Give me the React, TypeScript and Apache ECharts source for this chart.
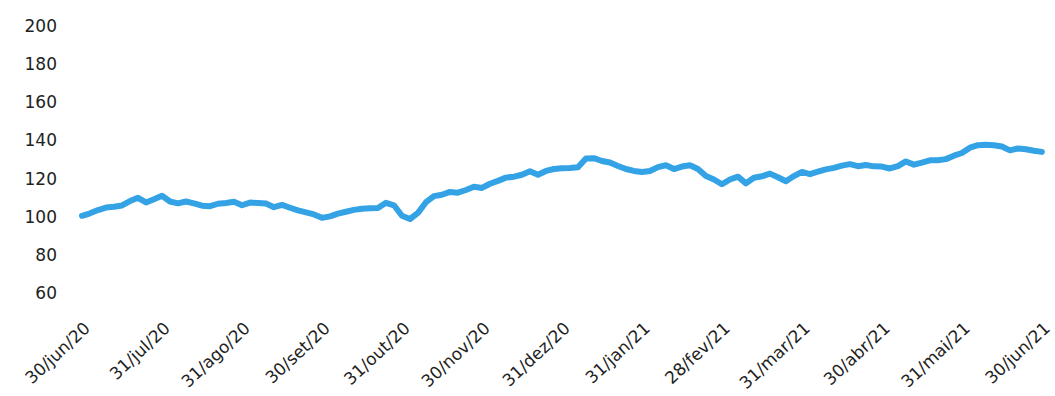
import { useEffect, useRef } from "react";
import * as echarts from "echarts";

const tickLabels = [
  "30/jun/20", "31/jul/20", "31/ago/20", "30/set/20", "31/out/20", "30/nov/20",
  "31/dez/20", "31/jan/21", "28/fev/21", "31/mar/21", "30/abr/21", "31/mai/21", "30/jun/21",
];

const pointsPerMonth = 10;

const values = [
  100.5, 101.8, 103.5, 104.8, 105.2, 105.9, 108.2, 109.9, 107.5, 109.2,
  111.0, 108.0, 107.0, 108.0, 107.0, 105.8, 105.5, 106.8, 107.2, 107.8,
  106.0, 107.4, 107.2, 106.9, 105.0, 106.2, 104.7, 103.3, 102.3, 101.2,
  99.4, 100.2, 101.6, 102.6, 103.6, 104.2, 104.4, 104.6, 107.3, 106.0,
  100.5, 98.8, 102.0, 107.6, 110.8, 111.5, 113.0, 112.6, 114.0, 115.7,
  115.1, 117.3, 118.8, 120.5, 121.0, 122.0, 123.8, 122.0, 124.0, 125.0,
  125.4, 125.5, 125.9, 130.5, 130.7, 129.2, 128.4, 126.6, 125.0, 124.0,
  123.5, 124.0, 126.0, 127.0, 125.0, 126.3, 127.0, 125.0, 121.3, 119.5,
  117.0, 119.5, 121.0, 117.5, 120.4, 121.2, 122.6, 120.7, 118.6, 121.3,
  123.5, 122.3, 123.6, 124.8, 125.6, 126.8, 127.6, 126.5, 127.1, 126.4,
  126.3, 125.3, 126.5, 129.0, 127.3, 128.4, 129.6, 129.6, 130.2, 132.0,
  133.4, 136.2, 137.5, 137.7, 137.5, 136.8, 134.8, 135.8, 135.4, 134.6,
  134.0,
];

const yMin = 60;
const yMax = 200;
const yStep = 20;

export default function App() {
  const ref = useRef<HTMLDivElement>(null);

  useEffect(() => {
    if (!ref.current) return;
    const chart = echarts.init(ref.current, null, { renderer: "svg" });
    const categories = values.map((_, i) => String(i));
    chart.setOption({
      animation: false,
      backgroundColor: "#ffffff",
      grid: { left: 82, right: 4, top: 26, bottom: 103, containLabel: false },
      xAxis: {
        type: "category",
        data: categories,
        boundaryGap: false,
        axisLine: { show: false },
        axisTick: { show: false },
        splitLine: { show: false },
        axisLabel: {
          interval: (i: number) => i % pointsPerMonth === 0,
          formatter: (v: string) => {
            const i = Number(v);
            return i % pointsPerMonth === 0 ? tickLabels[i / pointsPerMonth] ?? "" : "";
          },
          rotate: 43,
          margin: 37,
          padding: [0, -7, 0, 0],
          fontSize: 17,
          color: "#222222",
          fontFamily: "DejaVu Sans",
          showMaxLabel: true,
          hideOverlap: false,
        },
      },
      yAxis: {
        type: "value",
        min: yMin,
        max: yMax,
        interval: yStep,
        axisLine: { show: false },
        axisTick: { show: false },
        splitLine: { show: false },
        axisLabel: {
          margin: 25,
          fontSize: 17,
          color: "#222222",
          fontFamily: "DejaVu Sans",
        },
      },
      series: [
        {
          type: "line",
          data: values,
          symbol: "none",
          smooth: false,
          lineStyle: { color: "#34a3e6", width: 6, cap: "round", join: "round" },
        },
      ],
    });
    return () => chart.dispose();
  }, []);

  return (
    <div
      ref={ref}
      style={{ position: "fixed", left: 0, top: 0, width: 1055, height: 396 }}
    />
  );
}
